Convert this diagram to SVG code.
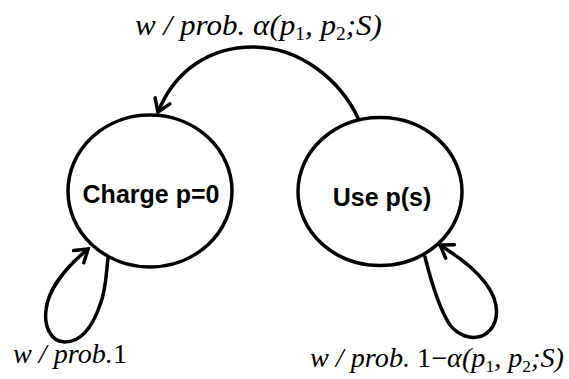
<svg xmlns="http://www.w3.org/2000/svg" width="569" height="379" viewBox="0 0 569 379">
<defs>
<style>
.node{fill:#fff;stroke:#000;stroke-width:3.5}
.lbl{font-family:"Liberation Sans",Arial,sans-serif;font-weight:bold;font-size:25px;text-anchor:middle}
.edge{fill:none;stroke:#000;stroke-width:3.5;stroke-linecap:round}
.math{font-family:"Liberation Serif","Times New Roman",serif;font-style:italic}
.up{font-style:normal}
.sub{font-size:0.62em}
</style>
<marker id="ah" viewBox="0 0 20 20" refX="17" refY="10" markerWidth="20" markerHeight="20" markerUnits="userSpaceOnUse" orient="auto">
<polyline points="5,2 17,10 5,18" fill="none" stroke="#000" stroke-width="3.5" stroke-linejoin="miter" stroke-linecap="round"/>
</marker>
</defs>
<rect width="569" height="379" fill="#fff"/>
<g id="edges">
<path class="edge" d="M358,118 C340,80 300,47 253,47 C210,47 175,70 158,112" marker-end="url(#ah)"/>
<path class="edge" d="M108,258 C106,275 106,290 100,305 C92,328 80,342 65,342 C50,342 44,325 46,310 C48,290 65,268 88,249" marker-end="url(#ah)"/>
<path class="edge" d="M425,257 C432,285 440,310 450,325 C458,335 470,340 482,336 C495,330 500,315 494,298 C485,275 460,258 440,245" marker-end="url(#ah)"/>
</g>
<g id="charge">
<ellipse class="node" cx="150" cy="191" rx="82" ry="76"/>
<text class="lbl" x="151" y="203">Charge p=0</text>
</g>
<g id="use">
<ellipse class="node" cx="380" cy="191.5" rx="82" ry="74"/>
<text class="lbl" x="382" y="206">Use p(s)</text>
</g>
<g id="labels">
<text class="math" x="135" y="35" font-size="29" textLength="247" lengthAdjust="spacingAndGlyphs">w / prob. α(p<tspan class="sub up" dy="5">1</tspan><tspan dy="-5">, p</tspan><tspan class="sub up" dy="5">2</tspan><tspan dy="-5">;S)</tspan></text>
<text class="math" x="13" y="363" font-size="28" textLength="114" lengthAdjust="spacingAndGlyphs">w / prob.<tspan class="up">1</tspan></text>
<text class="math" x="310" y="367" font-size="27" textLength="254" lengthAdjust="spacingAndGlyphs">w / prob. <tspan class="up">1</tspan><tspan class="up">−</tspan>α(p<tspan class="sub up" dy="5">1</tspan><tspan dy="-5">, p</tspan><tspan class="sub up" dy="5">2</tspan><tspan dy="-5">;S)</tspan></text>
</g>
</svg>
